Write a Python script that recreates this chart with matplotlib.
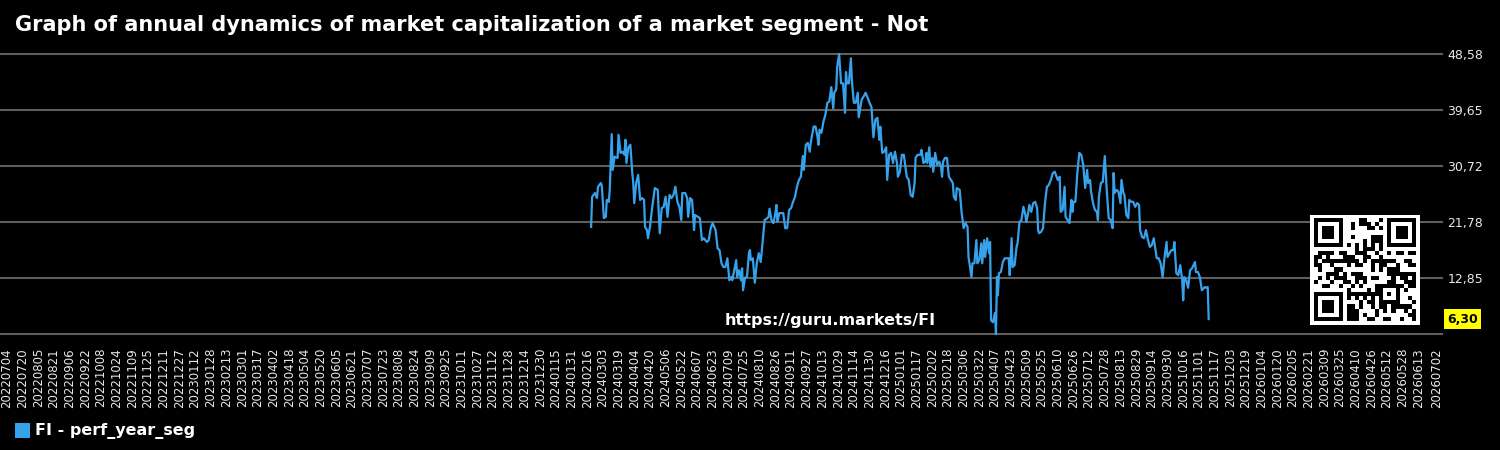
import numpy as np
import pandas as pd
import matplotlib
matplotlib.use("Agg")
import matplotlib.pyplot as plt
import matplotlib.transforms as mtransforms
from matplotlib.patches import Rectangle

# ---------------- data ----------------
title = "Graph of annual dynamics of market capitalization of a market segment - Not"
series_label = "FI - perf_year_seg"
watermark = "https://guru.markets/FI"
axis_start = "2022-07-04"
axis_end = "2026-07-02"
tick_step_days = 16
start_date = "2024-02-20"

day_offset = [
    0, 1, 4, 6, 7, 10, 11, 13, 15, 16, 18, 19, 21, 22, 24, 27, 28, 30, 32, 34,
    35, 36, 38, 40, 42, 43, 44, 46, 48, 49, 50, 52, 54, 55, 57, 58, 60, 62, 65, 68,
    69, 70, 72, 74, 76, 78, 80, 82, 84, 86, 88, 90, 92, 93, 96, 98, 99, 101, 103, 105,
    106, 109, 111, 113, 115, 118, 120, 122, 124, 127, 129, 131, 133, 135, 137, 139, 141, 143, 144, 146,
    148, 149, 151, 153, 154, 155, 157, 159, 161, 162, 163, 165, 167, 169, 171, 173, 174, 177, 179, 181,
    182, 184, 186, 188, 189, 190, 192, 194, 196, 198, 200, 202, 204, 206, 208, 210, 212, 214, 216, 217,
    219, 221, 223, 224, 227, 229, 231, 232, 233, 235, 237, 239, 241, 243, 245, 247, 248, 250, 251, 253,
    255, 257, 259, 260, 261, 263, 265, 266, 268, 270, 272, 273, 276, 278, 280, 282, 284, 286, 288, 290,
    292, 294, 295, 297, 299, 301, 302, 304, 306, 308, 310, 312, 313, 315, 317, 319, 322, 324, 326, 328,
    330, 331, 333, 336, 337, 339, 341, 342, 343, 345, 346, 348, 349, 351, 353, 355, 357, 358, 359, 361,
    363, 365, 367, 369, 370, 372, 373, 376, 378, 379, 380, 382, 384, 385, 386, 388, 389, 391, 393, 394,
    396, 398, 399, 401, 402, 404, 406, 407, 408, 410, 412, 413, 414, 415, 416, 418, 420, 422, 426, 427,
    429, 430, 432, 434, 435, 437, 439, 441, 443, 444, 446, 447, 449, 451, 453, 455, 456, 457, 459, 461,
    463, 465, 467, 469, 471, 473, 476, 478, 479, 481, 483, 484, 486, 488, 490, 491, 492, 494, 496, 498,
    500, 502, 504, 506, 507, 509, 510, 512, 514, 516, 517, 518, 520, 522, 524, 526, 528, 530, 532, 533,
    534, 536, 538, 540, 541, 543, 544, 546, 548, 549, 551, 553, 555, 557, 559, 560, 562, 564, 566, 568,
    570, 572, 574, 577, 579, 581, 583, 585, 587, 588, 590, 592, 594, 595, 597, 599, 601, 603, 604, 605,
    607, 609, 611, 613, 616, 617, 619, 621, 623, 626, 628, 629, 630,
]

values = [
    21.0, 25.8, 26.4, 25.6, 27.4, 28.0, 27.4, 22.4, 22.6, 25.3, 25.0, 26.9, 35.8, 30.1, 32.2, 32.0, 35.7, 32.8, 33.0, 32.5,
    34.9, 31.2, 33.7, 34.1, 29.6, 28.0, 24.8, 28.0, 29.3, 27.4, 25.3, 25.6, 25.3, 21.0, 20.5, 19.2, 21.0, 23.7, 27.2, 26.9,
    23.2, 20.0, 24.0, 24.2, 25.8, 22.6, 26.1, 25.6, 26.1, 27.4, 25.0, 24.2, 22.1, 26.4, 26.4, 25.6, 22.6, 25.6, 25.3, 20.5,
    22.9, 22.6, 22.4, 18.9, 19.2, 18.6, 18.9, 20.8, 21.6, 20.5, 17.6, 17.3, 15.2, 14.6, 14.6, 16.0, 12.5, 13.0, 12.5, 14.1,
    15.7, 13.0, 14.1, 12.5, 14.4, 10.9, 12.9, 13.0, 16.8, 17.3, 15.7, 16.0, 12.1, 15.2, 16.8, 15.4, 17.0, 22.1, 22.3, 22.6,
    23.9, 22.1, 21.6, 23.2, 24.5, 21.8, 23.2, 23.2, 23.2, 20.8, 20.8, 23.7, 24.0, 25.0, 25.8, 27.4, 28.5, 29.0, 32.3, 30.1,
    34.1, 34.4, 33.0, 34.4, 37.0, 37.0, 35.3, 34.1, 36.5, 36.0, 37.8, 38.9, 40.8, 41.0, 43.3, 39.9, 42.4, 42.9, 46.5, 48.58,
    43.9, 43.9, 39.2, 45.7, 43.9, 43.9, 47.9, 44.4, 40.8, 40.8, 42.4, 38.5, 41.3, 41.8, 42.4, 41.6, 40.8, 40.1, 35.3, 38.1,
    38.4, 34.9, 37.0, 32.8, 33.0, 33.7, 28.5, 32.5, 32.8, 31.2, 33.0, 31.2, 29.0, 29.8, 32.5, 32.5, 29.0, 28.5, 26.1, 25.8,
    28.0, 32.0, 32.5, 32.5, 33.3, 31.2, 31.4, 32.8, 31.2, 33.7, 30.6, 32.0, 29.8, 32.8, 30.9, 31.4, 30.6, 29.0, 31.4, 32.0,
    32.0, 29.0, 28.5, 28.0, 25.8, 25.3, 27.2, 26.9, 23.2, 22.1, 20.8, 21.6, 21.0, 16.2, 15.2, 13.0, 15.2, 15.2, 18.9, 15.2,
    15.7, 18.4, 15.2, 18.9, 16.2, 19.2, 16.8, 18.6, 6.1, 5.8, 7.3, 3.92, 13.0, 10.1, 13.6, 13.8, 15.4, 16.0, 16.0, 13.3,
    19.2, 14.6, 14.9, 17.8, 18.4, 21.8, 22.1, 24.2, 22.9, 21.8, 23.4, 24.5, 23.4, 24.8, 25.0, 24.0, 20.5, 20.0, 20.2, 20.8,
    24.8, 27.4, 27.7, 28.5, 29.6, 29.8, 28.5, 29.0, 23.4, 23.7, 27.4, 22.6, 22.1, 21.6, 25.3, 23.4, 25.0, 25.0, 29.6, 32.8,
    32.5, 30.9, 27.2, 30.1, 28.0, 28.5, 26.6, 24.8, 23.7, 23.4, 22.1, 25.8, 28.0, 28.2, 32.3, 26.9, 22.4, 22.1, 20.8, 29.6,
    26.4, 26.9, 26.6, 24.8, 28.5, 26.4, 26.1, 22.9, 22.4, 25.3, 25.0, 25.0, 24.2, 24.8, 24.5, 20.5, 19.4, 19.2, 20.5, 18.9,
    17.8, 18.1, 19.2, 16.0, 16.0, 15.2, 13.0, 16.2, 18.6, 16.2, 16.8, 17.3, 17.3, 18.6, 13.6, 13.3, 14.9, 12.5, 9.3, 13.0,
    12.5, 11.3, 14.1, 14.4, 15.4, 13.8, 13.8, 13.0, 10.9, 11.4, 11.3, 11.4, 6.30,
]

# ---------------- styling ----------------
W, H = 1500, 450
line_color = "#36a2eb"
grid_color = "#5f5f5f"
text_color = "#e8e8e8"

dates = pd.Timestamp(start_date) + pd.to_timedelta(day_offset, unit="D")

fig = plt.figure(figsize=(W / 100, H / 100), dpi=100, facecolor="black")
ax = fig.add_axes([0, 1 - 334 / H, 1442 / W, 280 / H])
ax.set_facecolor("black")
for s in ax.spines.values():
    s.set_visible(False)

ax.plot(dates, values, color=line_color, lw=1.6, solid_joinstyle="round", clip_on=False, zorder=3)

vmin, vmax = min(values), max(values)
yticks = np.linspace(vmin, vmax, 6)
ax.set_ylim(vmin, vmax)
for yv in yticks:
    ax.axhline(yv, color=grid_color, lw=1.5, zorder=1, clip_on=False)
ax.yaxis.tick_right()
ax.set_yticks(yticks[1:])
ax.set_yticklabels([f"{v:.2f}".replace(".", ",") for v in yticks[1:]])
ax.tick_params(axis="y", length=0, pad=4, labelsize=9, labelcolor=text_color)

# x ticks: every 16 days, final tick at axis end
t0, t1 = pd.Timestamp(axis_start), pd.Timestamp(axis_end)
ticks = list(pd.date_range(t0, t1, freq=f"{tick_step_days}D"))
if (t1 - ticks[-1]).days < tick_step_days * 0.75:
    ticks = ticks[:-1]
ticks.append(t1)
ax.set_xlim(t0 - pd.Timedelta(days=7), t1 + pd.Timedelta(days=5))
ax.set_xticks(ticks)
ax.set_xticklabels([t.strftime("%Y%m%d") for t in ticks], rotation=90, ha="center", va="top")
ax.tick_params(axis="x", length=0, pad=10, labelsize=8.5, labelcolor=text_color)

# last value badge
trans = mtransforms.blended_transform_factory(ax.transAxes, ax.transData)
ax.text(1447 / 1442, values[-1], f"{values[-1]:.2f}".replace(".", ","), transform=trans,
        ha="left", va="center", fontsize=9, fontweight="bold", color="black",
        bbox=dict(boxstyle="square,pad=0.25", fc="#ffff00", ec="none"), zorder=5)

# title
fig.text(15 / W, 1 - 25 / H, title, fontsize=15, fontweight="bold", color="white", va="center", ha="left")

# watermark
fig.text(830 / W, 1 - 320 / H, watermark, fontsize=11.5, fontweight="bold", color="white",
         ha="center", va="center")

# legend
fig.patches.append(Rectangle((15 / W, 1 - 438 / H), 15 / W, 15 / H, transform=fig.transFigure,
                             facecolor=line_color, edgecolor="none"))
fig.text(35 / W, 1 - 431 / H, series_label, fontsize=11.5, fontweight="bold", color="white",
         ha="left", va="center")

# QR-like code (decorative, deterministic from watermark text)
N = 25
qr = np.zeros((N, N), dtype=int)
reserved = np.zeros((N, N), dtype=bool)


def place_finder(r0, c0):
    for r in range(-1, 8):
        for c in range(-1, 8):
            rr, cc = r0 + r, c0 + c
            if 0 <= rr < N and 0 <= cc < N:
                reserved[rr, cc] = True
                if 0 <= r <= 6 and 0 <= c <= 6:
                    if r in (0, 6) or c in (0, 6) or (2 <= r <= 4 and 2 <= c <= 4):
                        qr[rr, cc] = 1


place_finder(0, 0)
place_finder(0, N - 7)
place_finder(N - 7, 0)
for i in range(8, N - 8):
    qr[6, i] = qr[i, 6] = 1 if i % 2 == 0 else 0
    reserved[6, i] = reserved[i, 6] = True
ac = 18
for r in range(-2, 3):
    for c in range(-2, 3):
        reserved[ac + r, ac + c] = True
        qr[ac + r, ac + c] = 1 if (max(abs(r), abs(c)) != 1) else 0
bits = "".join(f"{b:08b}" for b in watermark.encode())
k = 0
for c in range(N - 1, -1, -1):
    for r in range(N):
        if not reserved[r, c]:
            b = int(bits[k % len(bits)])
            k += 1
            qr[r, c] = b ^ (1 if (r * c) % 3 == 0 or (r + c) % 2 == 0 else 0)
qr_img = np.pad(qr, 1)
qax = fig.add_axes([1310 / W, 1 - 325 / H, 110 / W, 110 / H])
qax.imshow(qr_img, cmap="gray_r", interpolation="nearest", vmin=0, vmax=1)
qax.set_axis_off()

fig.savefig("out.png", dpi=100, facecolor="black")
